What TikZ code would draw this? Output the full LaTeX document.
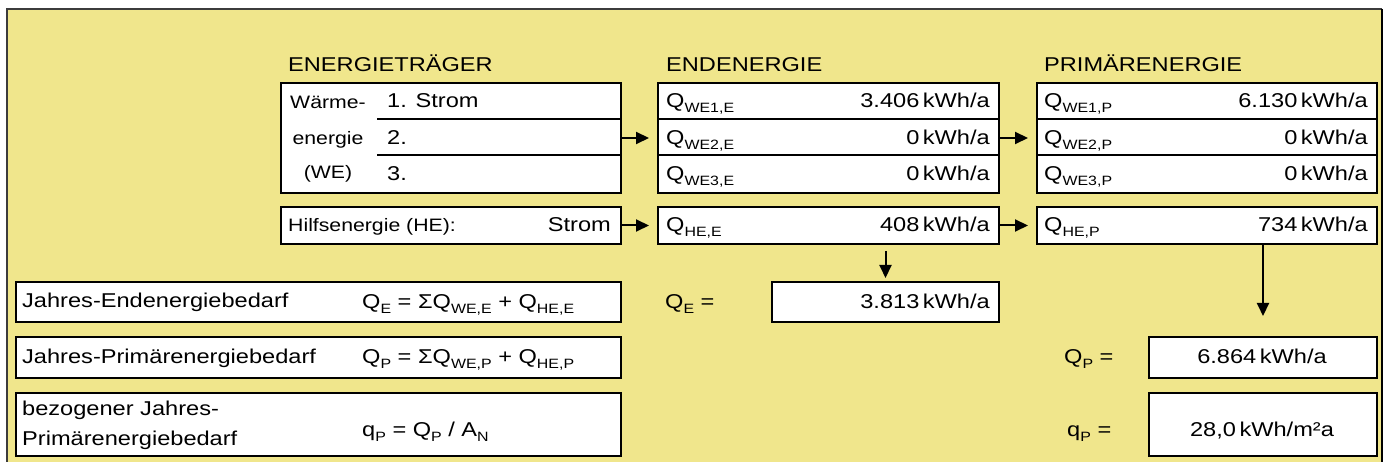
\documentclass[tikz,border=0pt]{standalone}
\usepackage{fontspec}
\setmainfont{Liberation Sans}[FakeStretch=1.18]
\usetikzlibrary{arrows.meta}
\definecolor{panel}{RGB}{240,230,140}
\definecolor{framec}{RGB}{60,60,60}
% lowered index text (Q_{WE1,E} etc.)
\newcommand\lo[1]{\raisebox{-5pt}{\fontsize{13.5}{15}\selectfont #1}}
\newcommand\un{\hspace{3.5pt}}
\begin{document}
\begin{tikzpicture}[x=1pt,y=-1pt,
  box/.style={draw=black,fill=white,line width=2pt,inner sep=0pt,anchor=north west},
  arr/.style={-{Triangle[length=13pt,width=12pt]},line width=2pt},
  every node/.style={inner sep=0pt,font=\fontsize{20}{24}\selectfont},
  sm/.style={font=\fontsize{18}{22}\selectfont},
  lt/.style={anchor=base west},
  rt/.style={anchor=base east},
  ct/.style={anchor=base}]
\useasboundingbox (0,0) rectangle (1385,462);
\fill[white] (0,0) rectangle (1385,462);
% sheet background and frame
\fill[panel] (7,9) rectangle (1382,462);
\draw[framec,line width=2pt] (7,462) -- (7,9) -- (1382,9);
\draw[black,line width=2pt] (1382,9) -- (1382,462);

% column headings
\node[lt] (h1) at (288,72) {ENERGIETRÄGER};
\node[lt] (h2) at (666,72) {ENDENERGIE};
\node[lt] (h3) at (1044,72) {PRIMÄRENERGIE};

% energy carriers
\node[box,minimum width=340pt,minimum height=110pt] (we) at (280,82) {};
\draw[line width=2pt] (377,119) -- (620,119) (377,155) -- (620,155);
\node[sm,ct] (we1) at (328,109) {Wärme-};
\node[sm,ct] (we2) at (328,144.5) {energie};
\node[sm,ct] (we3) at (328,179) {(WE)};
\node[lt] (c1) at (387,108) {1. Strom};
\node[lt] (c2) at (387,144.5) {2.};
\node[lt] (c3) at (387,180.5) {3.};
\node[box,minimum width=340pt,minimum height=37pt] (he) at (280,206) {};
\node[sm,lt] (hel) at (288,232) {Hilfsenergie (HE):};
\node[rt] (hes) at (611,232) {Strom};

% final energy
\node[box,minimum width=341pt,minimum height=110pt] (ende) at (657,82) {};
\draw[line width=2pt] (657,119) -- (998,119) (657,155) -- (998,155);
\node[lt] (e1) at (666,108) {Q\lo{WE1,E}};
\node[rt] (e1v) at (990,108) {3.406\un kWh/a};
\node[lt] (e2) at (666,144.5) {Q\lo{WE2,E}};
\node[rt] (e2v) at (990,144.5) {0\un kWh/a};
\node[lt] (e3) at (666,180.5) {Q\lo{WE3,E}};
\node[rt] (e3v) at (990,180.5) {0\un kWh/a};
\node[box,minimum width=341pt,minimum height=37pt] (hee) at (657,206) {};
\node[lt] (he1) at (666,232) {Q\lo{HE,E}};
\node[rt] (he1v) at (990,232) {408\un kWh/a};

% primary energy
\node[box,minimum width=340pt,minimum height=110pt] (prim) at (1036,82) {};
\draw[line width=2pt] (1036,119) -- (1376,119) (1036,155) -- (1376,155);
\node[lt] (p1) at (1044,108) {Q\lo{WE1,P}};
\node[rt] (p1v) at (1368,108) {6.130\un kWh/a};
\node[lt] (p2) at (1044,144.5) {Q\lo{WE2,P}};
\node[rt] (p2v) at (1368,144.5) {0\un kWh/a};
\node[lt] (p3) at (1044,180.5) {Q\lo{WE3,P}};
\node[rt] (p3v) at (1368,180.5) {0\un kWh/a};
\node[box,minimum width=340pt,minimum height=37pt] (hep) at (1036,206) {};
\node[lt] (hp1) at (1044,232) {Q\lo{HE,P}};
\node[rt] (hp1v) at (1368,232) {734\un kWh/a};

% annual demand rows
\node[box,minimum width=605pt,minimum height=40pt] (b1) at (15,281) {};
\node[lt] (b1t) at (22,308) {Jahres-Endenergiebedarf};
\node[lt] (b1f) at (362,309) {Q\lo{E} = ΣQ\lo{WE,E} + Q\lo{HE,E}};
\node[box,minimum width=605pt,minimum height=41pt] (b2) at (15,336) {};
\node[lt] (b2t) at (22,363) {Jahres-Primärenergiebedarf};
\node[lt] (b2f) at (362,364) {Q\lo{P} = ΣQ\lo{WE,P} + Q\lo{HE,P}};
\node[box,minimum width=605pt,minimum height=63pt] (b3) at (15,392) {};
\node[lt] (b3t) at (22,416) {bezogener Jahres-};
\node[lt] (b3u) at (22,445) {Primärenergiebedarf};
\node[lt] (b3f) at (362,436) {q\lo{P} = Q\lo{P} / A\lo{N}};

% results
\node[lt] (qel) at (665,309) {Q\lo{E} =};
\node[box,minimum width=227pt,minimum height=40pt] (qe) at (771,281) {};
\node[rt] (qev) at (990,309) {3.813\un kWh/a};
\node[lt] (qpl) at (1064,364) {Q\lo{P} =};
\node[box,minimum width=228pt,minimum height=41pt] (qp) at (1148,336) {};
\node[ct] (qpv) at (1262,364) {6.864\un kWh/a};
\node[lt] (qsl) at (1067,436) {q\lo{P} =};
\node[box,minimum width=228pt,minimum height=63pt] (qs) at (1148,392) {};
\node[ct] (qsv) at (1262,436) {28,0\un kWh/m²a};

% connectors
\draw[arr,shorten >=8pt] (we.east) -- (ende.west);
\draw[arr,shorten >=8pt] (he.east) -- (hee.west);
\draw[arr,shorten >=8pt] (ende.east) -- (prim.west);
\draw[arr,shorten >=8pt] (hee.east) -- (hep.west);
\draw[arr,shorten <=6pt,shorten >=3pt] (hee.south -| qe.north) -- (qe.north);
\draw[arr,shorten >=20pt] (hep.south -| qp.north) -- (qp.north);
\end{tikzpicture}
\end{document}
